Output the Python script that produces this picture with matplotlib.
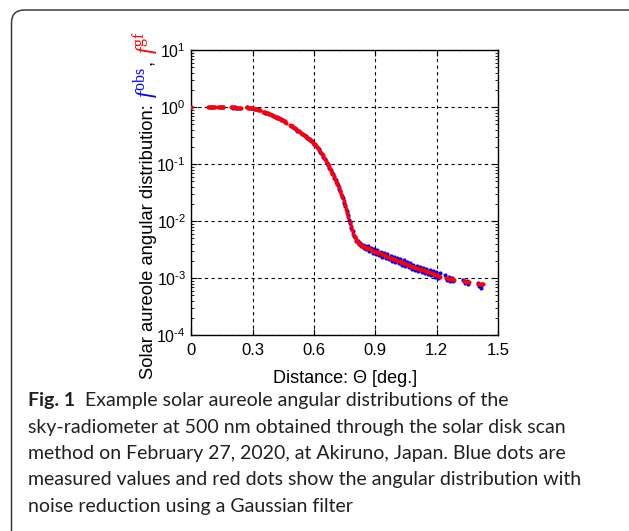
import matplotlib
matplotlib.use("Agg")
import matplotlib.pyplot as plt
from matplotlib.patches import FancyBboxPatch
from matplotlib.ticker import FixedLocator, NullFormatter, LogLocator

plt.rcParams["font.family"] = ["Liberation Sans", "DejaVu Sans"]
plt.rcParams["mathtext.fontset"] = "custom"
plt.rcParams["mathtext.rm"] = "Liberation Serif"
plt.rcParams["mathtext.it"] = "Liberation Serif:italic"
plt.rcParams["mathtext.sf"] = "Liberation Sans"

# ---- smoothed (Gaussian filter) distribution f^gf ----
gf_theta = [
    0.000, 0.082, 0.090, 0.098, 0.106, 0.114, 0.132, 0.140, 0.148, 0.156,
    0.192, 0.200, 0.208, 0.216, 0.224, 0.232, 0.240,
    0.270, 0.278, 0.286, 0.294, 0.302, 0.310, 0.318, 0.326, 0.334,
    0.350, 0.358, 0.366, 0.374, 0.382,
    0.392, 0.400, 0.408, 0.416, 0.424, 0.432, 0.440, 0.448, 0.456, 0.464,
    0.482, 0.490, 0.498, 0.506, 0.514, 0.522, 0.530,
    0.538, 0.546, 0.554, 0.562, 0.570, 0.578, 0.586, 0.594, 0.602, 0.610,
    0.618, 0.626, 0.634, 0.642, 0.650, 0.658, 0.666, 0.672, 0.678, 0.684,
    0.690, 0.696, 0.702, 0.708, 0.714, 0.720, 0.726, 0.732, 0.738, 0.744,
    0.750, 0.756, 0.762, 0.768, 0.774, 0.780, 0.786, 0.792, 0.798, 0.804,
    0.810, 0.816, 0.822, 0.828, 0.834, 0.840, 0.846, 0.852, 0.858, 0.866,
    0.874, 0.882, 0.890, 0.898, 0.906, 0.914, 0.922, 0.930, 0.938, 0.946,
    0.954, 0.962, 0.970, 0.978, 0.986, 0.994, 1.002, 1.010, 1.018, 1.026,
    1.034, 1.042, 1.050, 1.058, 1.066, 1.074, 1.082, 1.090, 1.098, 1.106,
    1.114, 1.122, 1.130, 1.138, 1.146, 1.154, 1.162, 1.170, 1.178, 1.186,
    1.194, 1.202, 1.210, 1.218,
    1.246, 1.254, 1.262, 1.270, 1.278, 1.286,
    1.334, 1.342, 1.350, 1.358,
    1.404, 1.412, 1.420, 1.428,
]
gf_value = [
    1.000, 1.000, 1.000, 0.998, 0.997, 0.996, 0.995, 0.994, 0.993, 0.992,
    0.985, 0.983, 0.981, 0.979, 0.976, 0.973, 0.970,
    0.990, 0.980, 0.970, 0.960, 0.950, 0.940, 0.920, 0.900, 0.880,
    0.830, 0.810, 0.790, 0.770, 0.740,
    0.720, 0.700, 0.680, 0.660, 0.640, 0.620, 0.600, 0.580, 0.560, 0.530,
    0.480, 0.460, 0.440, 0.420, 0.400, 0.380, 0.360,
    0.345, 0.330, 0.315, 0.300, 0.285, 0.270, 0.255, 0.238, 0.222, 0.206,
    0.190, 0.174, 0.158, 0.143, 0.128, 0.114, 0.101, 0.092, 0.083, 0.075,
    0.068, 0.061, 0.055, 0.049, 0.044, 0.039, 0.034, 0.030, 0.026, 0.0225,
    0.0193, 0.0163, 0.0138, 0.0116, 0.0097, 0.0081, 0.0069, 0.0060, 0.0053, 0.0048,
    0.0044, 0.0042, 0.0040, 0.0038, 0.0037, 0.0036, 0.0035, 0.0034, 0.00335, 0.0033,
    0.0032, 0.0031, 0.0030, 0.0029, 0.00283, 0.00277, 0.00270, 0.00263, 0.00256, 0.00249,
    0.00242, 0.00235, 0.00228, 0.00222, 0.00217, 0.00212, 0.00207, 0.00202, 0.00197, 0.00192,
    0.00187, 0.00182, 0.00177, 0.00172, 0.00167, 0.00162, 0.00158, 0.00154, 0.00151, 0.00148,
    0.00145, 0.00142, 0.00139, 0.00136, 0.00133, 0.00130, 0.00127, 0.00124, 0.00121, 0.00118,
    0.00115, 0.00112, 0.00109, 0.00106,
    0.00102, 0.00100, 0.00098, 0.00097, 0.00095, 0.00094,
    0.00087, 0.00086, 0.00085, 0.00084,
    0.00078, 0.00077, 0.00077, 0.00078,
]

# ---- measured distribution f^obs ----
obs_theta = [
    0.000, 0.086, 0.094, 0.102, 0.110, 0.136, 0.144, 0.152,
    0.196, 0.204, 0.212, 0.220, 0.228, 0.236,
    0.274, 0.282, 0.290, 0.298, 0.306, 0.314, 0.322, 0.330,
    0.354, 0.362, 0.370, 0.378,
    0.396, 0.404, 0.412, 0.420, 0.428, 0.436, 0.444, 0.452, 0.460,
    0.486, 0.494, 0.502, 0.510, 0.518, 0.526,
    0.542, 0.550, 0.558, 0.566, 0.574, 0.582, 0.590, 0.598, 0.606, 0.614,
    0.622, 0.630, 0.638, 0.646, 0.654, 0.662, 0.669, 0.675, 0.681, 0.687,
    0.693, 0.699, 0.705, 0.711, 0.717, 0.723, 0.729, 0.735, 0.741, 0.747,
    0.753, 0.759, 0.765, 0.771, 0.777, 0.783, 0.789, 0.795, 0.801, 0.807,
    0.813, 0.819, 0.825, 0.831, 0.837, 0.843, 0.849, 0.855, 0.862, 0.870,
    0.878, 0.886, 0.894, 0.902, 0.910, 0.918, 0.926, 0.934, 0.942, 0.950,
    0.958, 0.966, 0.974, 0.982, 0.990, 0.998, 1.006, 1.014, 1.022, 1.030,
    1.038, 1.046, 1.054, 1.062, 1.070, 1.078, 1.086, 1.094, 1.102, 1.110,
    1.118, 1.126, 1.134, 1.142, 1.150, 1.158, 1.166, 1.174, 1.182, 1.190,
    1.198, 1.206, 1.214,
    1.242, 1.250, 1.258, 1.266, 1.274, 1.282,
    1.330, 1.338, 1.346, 1.354,
    1.400, 1.408, 1.416, 1.424,
]
obs_value = [
    1.000, 1.000, 0.995, 1.000, 0.990, 0.995, 0.990, 0.995,
    0.985, 0.980, 0.985, 0.975, 0.980, 0.970,
    0.985, 0.975, 0.960, 0.955, 0.940, 0.935, 0.910, 0.890,
    0.820, 0.800, 0.785, 0.750,
    0.715, 0.695, 0.675, 0.645, 0.635, 0.605, 0.595, 0.565, 0.545,
    0.470, 0.455, 0.425, 0.415, 0.385, 0.372,
    0.340, 0.318, 0.310, 0.290, 0.280, 0.260, 0.250, 0.228, 0.216, 0.196,
    0.184, 0.163, 0.152, 0.134, 0.122, 0.106, 0.097, 0.086, 0.080, 0.070,
    0.066, 0.057, 0.053, 0.046, 0.042, 0.036, 0.033, 0.027, 0.025, 0.0205,
    0.0182, 0.0148, 0.0130, 0.0103, 0.0092, 0.0074, 0.0066, 0.0055, 0.0052, 0.0045,
    0.0044, 0.0040, 0.0041, 0.0036, 0.0038, 0.0034, 0.0036, 0.0032, 0.0036, 0.0030,
    0.0034, 0.0028, 0.0032, 0.00265, 0.0031, 0.00250, 0.00290, 0.00238, 0.00278, 0.00226,
    0.00262, 0.00212, 0.00248, 0.00202, 0.00236, 0.00190, 0.00226, 0.00182, 0.00214, 0.00172,
    0.00204, 0.00163, 0.00194, 0.00153, 0.00182, 0.00145, 0.00172, 0.00139, 0.00165, 0.00133,
    0.00158, 0.00128, 0.00152, 0.00122, 0.00146, 0.00117, 0.00140, 0.00111, 0.00133, 0.00106,
    0.00127, 0.00100, 0.00120,
    0.00112, 0.00094, 0.00106, 0.00090, 0.00102, 0.00089,
    0.00092, 0.00081, 0.00089, 0.00079,
    0.00081, 0.00072, 0.00068, 0.00080,
]

x_ticks = [0, 0.3, 0.6, 0.9, 1.2, 1.5]
x_tick_labels = ["0", "0.3", "0.6", "0.9", "1.2", "1.5"]
y_ticks = [1e-4, 1e-3, 1e-2, 1e-1, 1e0, 1e1]
y_tick_labels = ["$\\mathsf{10^{\u20104}}$", "$\\mathsf{10^{\u20103}}$",
                 "$\\mathsf{10^{\u20102}}$", "$\\mathsf{10^{\u20101}}$",
                 "$\\mathsf{10^{0}}$", "$\\mathsf{10^{1}}$"]

caption_lines = [
    "Example solar aureole angular distributions of the",
    "sky-radiometer at 500 nm obtained through the solar disk scan",
    "method on February 27, 2020, at Akiruno, Japan. Blue dots are",
    "measured values and red dots show the angular distribution with",
    "noise reduction using a Gaussian filter",
]

W, H = 629, 531
fig = plt.figure(figsize=(W / 100, H / 100), dpi=100)
fig.patch.set_facecolor("white")

# rounded frame around figure and caption
frame = FancyBboxPatch((11.5, -30), 660, H - 10 + 30,
                       boxstyle="round,pad=0,rounding_size=13",
                       transform=None, facecolor="none",
                       edgecolor="#3c3c3c", linewidth=1.1)
fig.patches.append(frame)

ax = fig.add_axes([191.5 / W, 1 - 335 / H, (498 - 191.5) / W, (335 - 50) / H])
ax.set_yscale("log")
ax.set_xlim(0, 1.5)
ax.set_ylim(1e-4, 1e1)

ax.plot(obs_theta, obs_value, linestyle="none", marker="o", markersize=3.0,
        markeredgewidth=0, color="#0000ff", zorder=3)
ax.plot(gf_theta, gf_value, linestyle="none", marker="o", markersize=3.0,
        markeredgewidth=0, color="#ff0000", zorder=4)

ax.xaxis.set_major_locator(FixedLocator(x_ticks))
ax.set_xticklabels(x_tick_labels)
ax.yaxis.set_major_locator(FixedLocator(y_ticks))
ax.set_yticklabels(y_tick_labels)
ax.yaxis.set_minor_locator(LogLocator(base=10, subs=range(2, 10), numticks=20))
ax.yaxis.set_minor_formatter(NullFormatter())

ax.tick_params(axis="both", which="major", direction="in", length=4, width=0.8,
               top=True, right=True, colors="black")
ax.tick_params(axis="x", which="major", pad=6, labelsize=12)
ax.tick_params(axis="y", which="major", pad=4, labelsize=11.5)
ax.tick_params(axis="y", which="minor", direction="in", length=2.2, width=0.6,
               left=True, right=True)
ax.grid(True, which="major", color="black", linestyle=(0, (3, 3)), linewidth=0.8)
ax.set_axisbelow(True)
for s in ax.spines.values():
    s.set_linewidth(1.0)
    s.set_color("black")

ax.set_xlabel("Distance: \u0398 [deg.]", fontsize=13)
ax.xaxis.set_label_coords(0.5, -(370 - 335) / 285)

# multi-coloured vertical axis label, built piece by piece along one baseline
renderer = fig.canvas.get_renderer()
base_x = 153.0 / W
y_pos = 379.0
pieces = [
    ("Solar aureole angular distribution: ", "black", 13.2),
    (r"$f^{\rm obs}$", "#0000ff", 16.5),
    (", ", "black", 13.2),
    (r"$f^{\rm gf}$", "#ff0000", 16.5),
]
for txt, col, fs in pieces:
    t = fig.text(base_x, 1 - y_pos / H, txt, rotation=90, rotation_mode="anchor",
                 ha="left", va="baseline", color=col, fontsize=fs)
    ext = t.get_window_extent(renderer)
    y_pos -= ext.height + 1

# caption
cap_x = 28 / W
cap_base = [406, 432.5, 459, 485.5, 512]
fig_lbl = fig.text(cap_x, 1 - cap_base[0] / H, "Fig. 1", fontsize=14, fontweight="bold",
                   family=["Lato", "DejaVu Sans"], va="baseline", ha="left",
                   color="#231f20")
lbl_w = fig_lbl.get_window_extent(renderer).width
for i, line in enumerate(caption_lines):
    x0 = cap_x + ((lbl_w + 10) / W if i == 0 else 0)
    fig.text(x0, 1 - cap_base[i] / H, line, fontsize=14,
             family=["Lato", "DejaVu Sans"], va="baseline", ha="left", color="#231f20")

fig.savefig("out.png", dpi=100, facecolor="white")
